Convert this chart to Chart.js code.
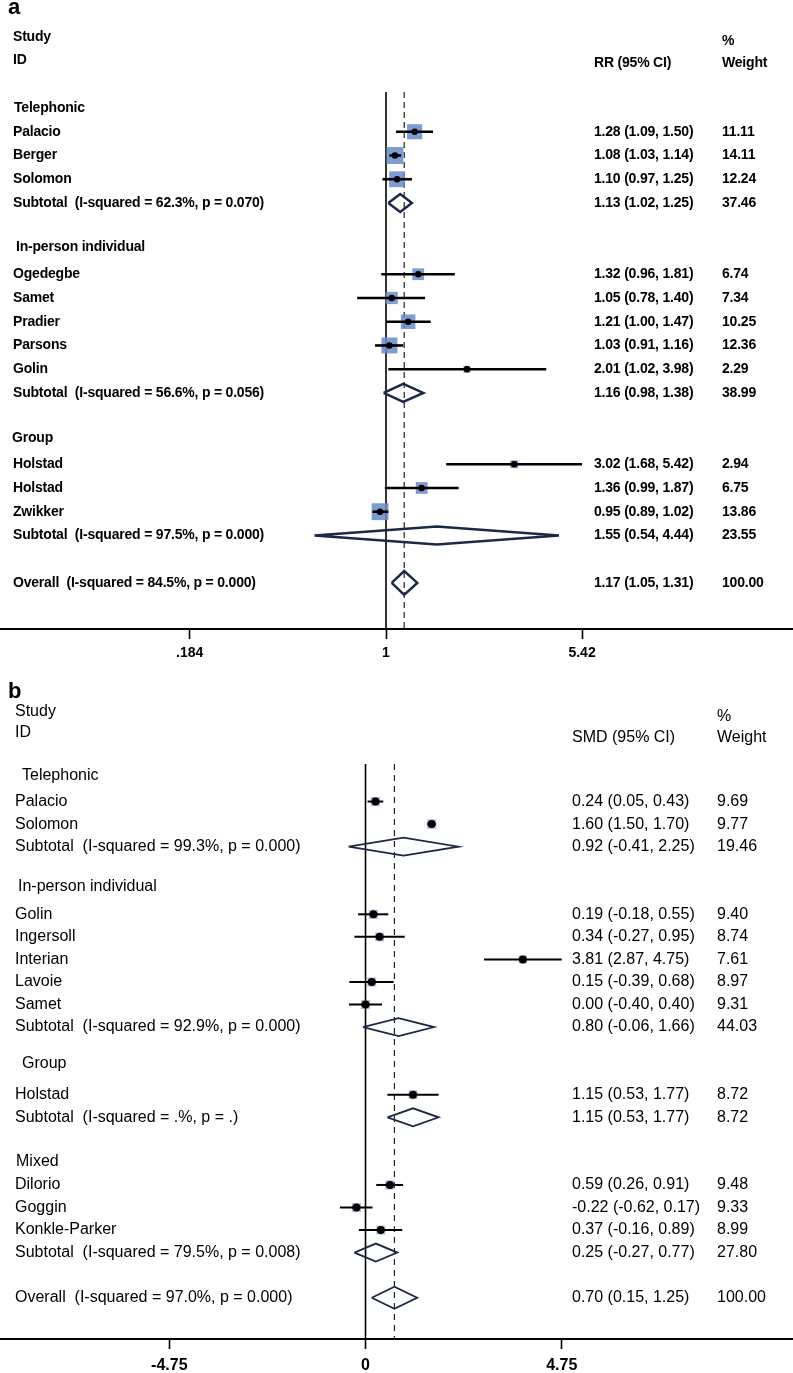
<!DOCTYPE html>
<html>
<head>
<meta charset="utf-8">
<script src="https://cdn.jsdelivr.net/npm/chart.js@4.4.1/dist/chart.umd.min.js"></script>
<style>
html, body { margin: 0; padding: 0; background: #fff; width: 793px; height: 1373px; overflow: hidden; }
#wrap { position: relative; width: 793px; height: 1373px; overflow: hidden; }
canvas { position: absolute; left: 0; }
#chartA { top: 0; }
#chartB { top: 670px; }
</style>
</head>
<body>
<div id="wrap">
  <canvas id="chartA" width="793" height="667"></canvas>
  <canvas id="chartB" width="793" height="713"></canvas>
</div>
<script>
// ---- panel a: risk ratio ----
const studiesA   = ["Palacio", "Berger", "Solomon", "Ogedegbe", "Samet", "Pradier", "Parsons", "Golin", "Holstad", "Holstad", "Zwikker"];
const rowsA      = [1, 2, 3, 7, 8, 9, 10, 11, 15, 16, 17];
const rrA        = [1.28, 1.08, 1.10, 1.32, 1.05, 1.21, 1.03, 2.01, 3.02, 1.36, 0.95];
const rrLowA     = [1.09, 1.03, 0.97, 0.96, 0.78, 1.00, 0.91, 1.02, 1.68, 0.99, 0.89];
const rrHighA    = [1.50, 1.14, 1.25, 1.81, 1.40, 1.47, 1.16, 3.98, 5.42, 1.87, 1.02];
const weightA    = [11.11, 14.11, 12.24, 6.74, 7.34, 10.25, 12.36, 2.29, 2.94, 6.75, 13.86];
const groupsA    = ["Telephonic", "In-person individual", "Group"];
const groupRowsA = [0, 5.85, 13.9];
const subLabelsA = ["Subtotal  (I-squared = 62.3%, p = 0.070)", "Subtotal  (I-squared = 56.6%, p = 0.056)",
                    "Subtotal  (I-squared = 97.5%, p = 0.000)", "Overall  (I-squared = 84.5%, p = 0.000)"];
const subRowsA   = [4, 12, 18, 20];
const subRrA     = [1.13, 1.16, 1.55, 1.17];
const subLowA    = [1.02, 0.98, 0.54, 1.05];
const subHighA   = [1.25, 1.38, 4.44, 1.31];
const subWeightA = [37.46, 38.99, 23.55, 100.00];
const ticksA     = [0.184, 1, 5.42];
const tickTextA  = [".184", "1", "5.42"];

// ---- panel b: standardised mean difference ----
const studiesB   = ["Palacio", "Solomon", "Golin", "Ingersoll", "Interian", "Lavoie", "Samet", "Holstad", "Dilorio", "Goggin", "Konkle-Parker"];
const rowsB      = [1, 2, 6, 7, 8, 9, 10, 14, 18, 19, 20];
const smdB       = [0.24, 1.60, 0.19, 0.34, 3.81, 0.15, 0.00, 1.15, 0.59, -0.22, 0.37];
const smdLowB    = [0.05, 1.50, -0.18, -0.27, 2.87, -0.39, -0.40, 0.53, 0.26, -0.62, -0.16];
const smdHighB   = [0.43, 1.70, 0.55, 0.95, 4.75, 0.68, 0.40, 1.77, 0.91, 0.17, 0.89];
const weightB    = [9.69, 9.77, 9.40, 8.74, 7.61, 8.97, 9.31, 8.72, 9.48, 9.33, 8.99];
const groupsB    = ["Telephonic", "In-person individual", "Group", "Mixed"];
const groupRowsB = [-0.13, 4.79, 12.6, 16.98];
const subLabelsB = ["Subtotal  (I-squared = 99.3%, p = 0.000)", "Subtotal  (I-squared = 92.9%, p = 0.000)",
                    "Subtotal  (I-squared = .%, p = .)", "Subtotal  (I-squared = 79.5%, p = 0.008)",
                    "Overall  (I-squared = 97.0%, p = 0.000)"];
const subRowsB   = [3, 11, 15, 21, 23];
const subSmdB    = [0.92, 0.80, 1.15, 0.25, 0.70];
const subLowB    = [-0.41, -0.06, 0.53, -0.27, 0.15];
const subHighB   = [2.25, 1.66, 1.77, 0.77, 1.25];
const subWeightB = [19.46, 44.03, 8.72, 27.80, 100.00];
const ticksB     = [-4.75, 0, 4.75];
const tickTextB  = ["-4.75", "0", "4.75"];

const FAMILY = '"Liberation Sans", Arial, Helvetica, sans-serif';
const INK = "#000";
const NAVY = "#1b2945";

function ciText(e, l, h) {
  return e.toFixed(2) + " (" + l.toFixed(2) + ", " + h.toFixed(2) + ")";
}

function forest(id, d, st) {
  const last = d.subEst.length - 1;
  const datasets = [];

  // line of no effect and dashed overall estimate
  datasets.push({ type: "line", data: [{ x: st.nullX, y: st.yTop }, { x: st.nullX, y: st.yBottom }],
    borderColor: INK, borderWidth: 1.6, pointRadius: 0, order: 6 });
  datasets.push({ type: "line", data: [{ x: d.subEst[last], y: st.yTop }, { x: d.subEst[last], y: st.yBottom }],
    borderColor: "#222", borderWidth: 1.2, borderDash: st.dash, pointRadius: 0, order: 6 });

  // weight boxes
  datasets.push({ type: "scatter", data: d.est.map((e, i) => ({ x: e, y: d.rows[i] })),
    pointStyle: "rect", pointRadius: d.weight.map(w => st.boxK * Math.sqrt(w) / Math.SQRT2),
    backgroundColor: st.boxColor, borderWidth: 0, order: 5 });

  // confidence intervals
  d.est.forEach((e, i) => {
    datasets.push({ type: "line", data: [{ x: d.lo[i], y: d.rows[i] }, { x: d.hi[i], y: d.rows[i] }],
      borderColor: INK, borderWidth: st.ciW, pointRadius: 0, order: 3 });
  });

  // point estimates
  datasets.push({ type: "scatter", data: d.est.map((e, i) => ({ x: e, y: d.rows[i] })),
    pointStyle: "circle", pointRadius: st.dotR, backgroundColor: INK, borderWidth: 0, order: 1 });

  // pooled diamonds
  d.subEst.forEach((e, i) => {
    const r = d.subRows[i];
    const h = i === last ? st.dOverall : st.dHalf;
    datasets.push({ type: "line",
      data: [{ x: d.subLo[i], y: r }, { x: e, y: r - h }, { x: d.subHi[i], y: r }, { x: e, y: r + h }, { x: d.subLo[i], y: r }],
      borderColor: NAVY, borderWidth: st.diaW, pointRadius: 0, order: 2 });
  });

  const textPlugin = {
    id: "forestText",
    afterDraw(chart) {
      const ctx = chart.ctx;
      const ys = chart.scales.y;
      const py = v => ys.getPixelForValue(v);
      ctx.save();
      ctx.fillStyle = INK;

      ctx.textBaseline = "alphabetic";
      ctx.font = "bold 22px " + FAMILY;
      ctx.fillText(st.panel, 8, st.panelY);

      ctx.textBaseline = "middle";
      ctx.font = st.font;
      if ("letterSpacing" in ctx) ctx.letterSpacing = st.spacing;
      ctx.fillText("Study", st.nameX, py(st.head.study));
      ctx.fillText("ID", st.nameX, py(st.head.id));
      ctx.fillText(st.colHead, st.estX, py(st.head.col));
      ctx.fillText("%", st.wX, py(st.head.pct));
      ctx.fillText("Weight", st.wX, py(st.head.col));

      d.groups.forEach((g, i) => ctx.fillText(g, st.groupX[i], py(d.groupRows[i])));
      d.names.forEach((n, i) => {
        const y = py(d.rows[i]);
        ctx.fillText(n, st.nameX, y);
        ctx.fillText(ciText(d.est[i], d.lo[i], d.hi[i]), st.estX, y);
        ctx.fillText(d.weight[i].toFixed(2), st.wX, y);
      });
      d.subLabels.forEach((n, i) => {
        const y = py(d.subRows[i]);
        ctx.fillText(n, st.nameX, y);
        ctx.fillText(ciText(d.subEst[i], d.subLo[i], d.subHi[i]), st.estX, y);
        ctx.fillText(d.subWeight[i].toFixed(2), st.wX, y);
      });
      ctx.restore();
    }
  };

  return new Chart(document.getElementById(id), {
    type: "scatter",
    data: { datasets },
    plugins: [textPlugin],
    options: {
      responsive: false,
      devicePixelRatio: 1,
      animation: false,
      layout: { autoPadding: false, padding: { top: st.padTop, left: 0, right: 0, bottom: 0 } },
      plugins: { legend: { display: false }, tooltip: { enabled: false } },
      scales: {
        x: {
          type: st.xType,
          min: st.xMin,
          max: st.xMax,
          afterBuildTicks: ax => { ax.ticks = d.ticks.map(v => ({ value: v })); },
          ticks: {
            autoSkip: false, maxRotation: 0, color: INK, padding: st.tickPad,
            font: { family: FAMILY, size: st.tickSize, weight: "bold", lineHeight: 1.2 },
            callback: (v, i) => d.tickText[i]
          },
          grid: { drawOnChartArea: false, drawTicks: true, tickLength: 10, tickColor: INK, tickWidth: 1.6 },
          border: { display: true, color: INK, width: 2 }
        },
        y: { type: "linear", reverse: true, min: st.yTop, max: st.yBottom, display: false }
      }
    }
  });
}

forest("chartA", {
  names: studiesA, rows: rowsA, est: rrA, lo: rrLowA, hi: rrHighA, weight: weightA,
  groups: groupsA, groupRows: groupRowsA,
  subLabels: subLabelsA, subRows: subRowsA, subEst: subRrA, subLo: subLowA, subHi: subHighA, subWeight: subWeightA,
  ticks: ticksA, tickText: tickTextA
}, {
  panel: "a", panelY: 14, colHead: "RR (95% CI)",
  xType: "logarithmic", xMin: 0.03588, xMax: 33.40, nullX: 1,
  yTop: -0.674, yBottom: 21.94, padTop: 92,
  font: "bold 14px " + FAMILY, spacing: "-0.2px", tickSize: 14, tickPad: 5.6,
  nameX: 13, groupX: [14, 16, 12], estX: 594, wX: 722,
  head: { study: -2.99, id: -2.02, pct: -2.82, col: -1.89 },
  boxK: 4.53, boxColor: "rgba(104,138,205,0.85)", dotR: 3.2, ciW: 2.6,
  diaW: 2.5, dHalf: 0.38, dOverall: 0.5, dash: [6, 4]
});

forest("chartB", {
  names: studiesB, rows: rowsB, est: smdB, lo: smdLowB, hi: smdHighB, weight: weightB,
  groups: groupsB, groupRows: groupRowsB,
  subLabels: subLabelsB, subRows: subRowsB, subEst: subSmdB, subLo: subLowB, subHi: subHighB, subWeight: subWeightB,
  ticks: ticksB, tickText: tickTextB
}, {
  panel: "b", panelY: 28, colHead: "SMD (95% CI)",
  xType: "linear", xMin: -8.85, xMax: 10.35, nullX: 0,
  yTop: -0.665, yBottom: 24.83, padTop: 94,
  font: "16px " + FAMILY, spacing: "0px", tickSize: 16, tickPad: 7.4,
  nameX: 15, groupX: [22, 18, 22, 16], estX: 572, wX: 717,
  head: { study: -2.97, id: -2.04, pct: -2.75, col: -1.82 },
  boxK: 3.0, boxColor: "rgba(120,140,200,0.55)", dotR: 4, ciW: 2,
  diaW: 1.8, dHalf: 0.4, dOverall: 0.49, dash: [6, 5]
});
</script>
</body>
</html>
